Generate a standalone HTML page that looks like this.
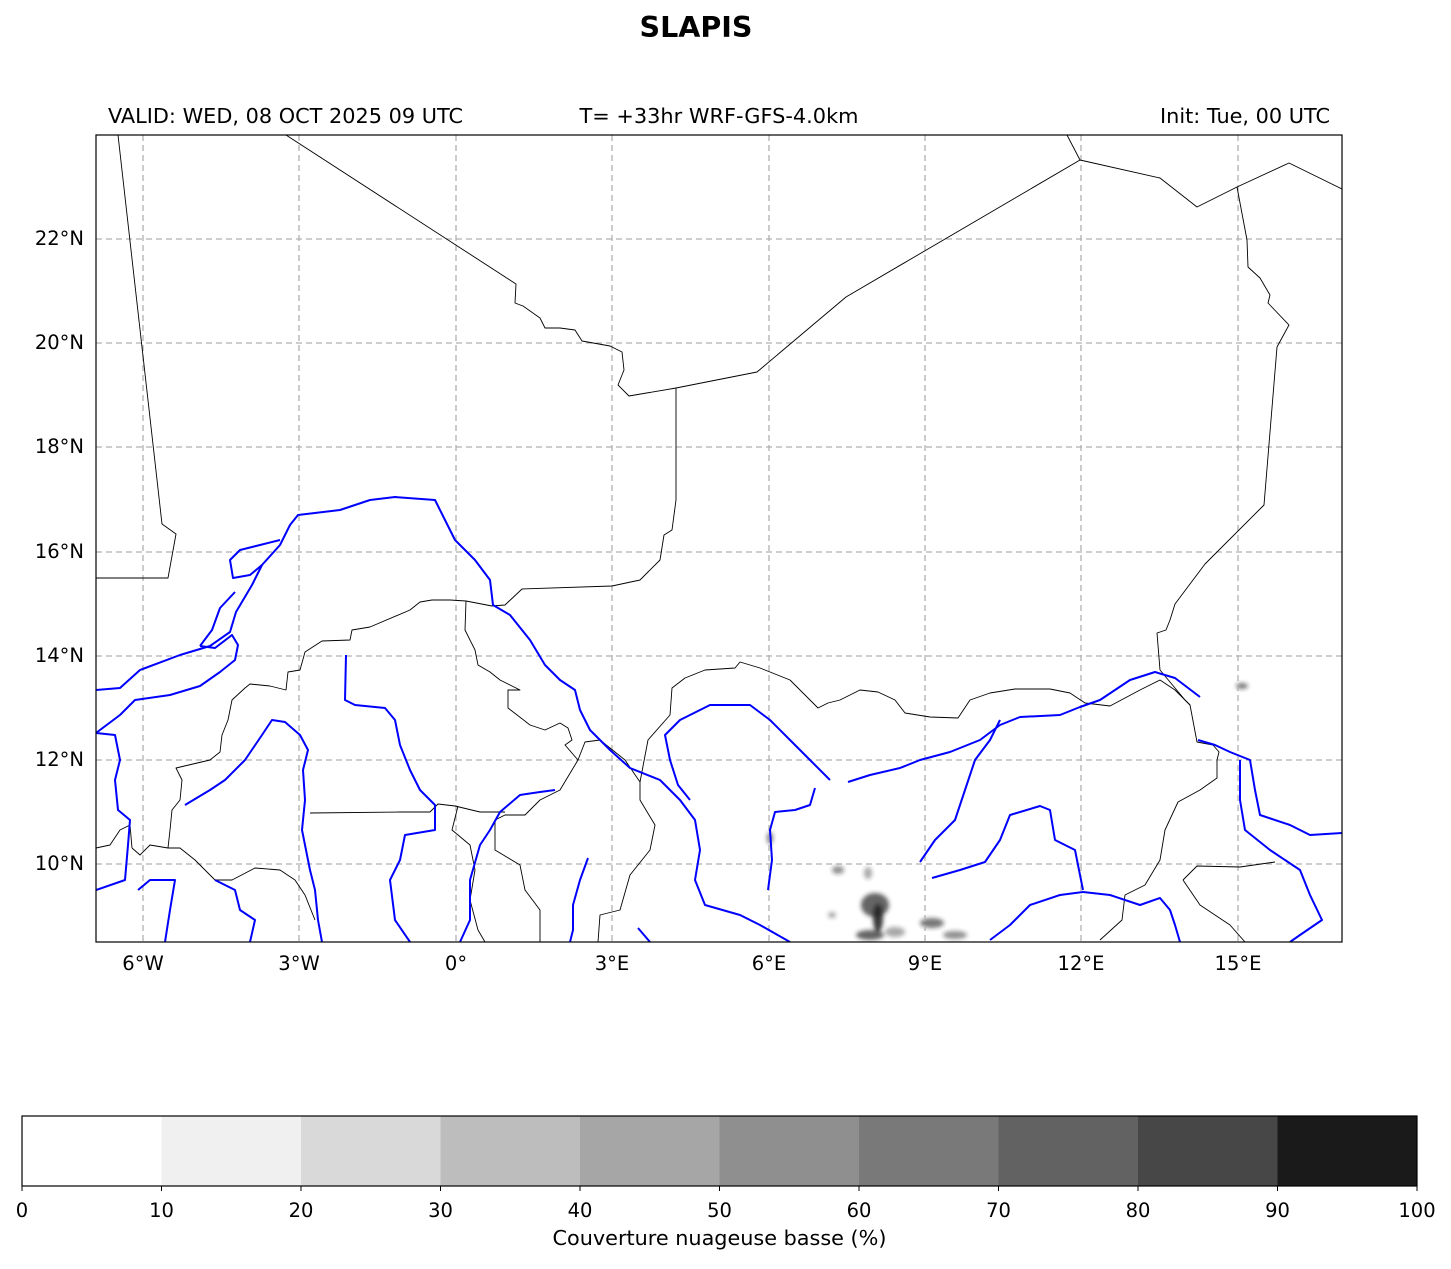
<!DOCTYPE html>
<html><head><meta charset="utf-8"><style>
body{margin:0;background:#fff;width:1451px;height:1264px;overflow:hidden;font-family:"Liberation Sans","DejaVu Sans",sans-serif}
</style></head><body>
<svg width="1451" height="1264" viewBox="0 0 1451 1264" xmlns="http://www.w3.org/2000/svg" font-family="DejaVu Sans, Liberation Sans, sans-serif">
<defs>
<filter id="bl" x="-50%" y="-50%" width="200%" height="200%"><feGaussianBlur stdDeviation="2.2"/></filter>
<clipPath id="ax"><rect x="96" y="135" width="1246" height="807"/></clipPath>
</defs>
<text x="696" y="37" text-anchor="middle" font-size="28.5" font-weight="bold" textLength="113" lengthAdjust="spacingAndGlyphs">SLAPIS</text>
<text x="108" y="123" font-size="20.5" textLength="355" lengthAdjust="spacingAndGlyphs">VALID: WED, 08 OCT 2025 09 UTC</text>
<text x="719" y="123" font-size="20.5" text-anchor="middle" textLength="279" lengthAdjust="spacingAndGlyphs">T= +33hr WRF-GFS-4.0km</text>
<text x="1330" y="123" font-size="20.5" text-anchor="end" textLength="170" lengthAdjust="spacingAndGlyphs">Init: Tue, 00 UTC</text>

<g clip-path="url(#ax)">
<g filter="url(#bl)" fill="#222">
<ellipse cx="770" cy="838" rx="3" ry="6" opacity=".6"/>
<ellipse cx="838" cy="870" rx="6" ry="4" opacity=".5"/>
<ellipse cx="868" cy="873" rx="4" ry="6" opacity=".4"/>
<ellipse cx="875" cy="905" rx="14" ry="12" opacity=".7"/>
<ellipse cx="878" cy="918" rx="5" ry="14" opacity=".9"/>
<ellipse cx="870" cy="935" rx="14" ry="5" opacity=".7"/>
<ellipse cx="895" cy="932" rx="10" ry="5" opacity=".4"/>
<ellipse cx="932" cy="923" rx="12" ry="5" opacity=".6"/>
<ellipse cx="955" cy="935" rx="12" ry="4" opacity=".5"/>
<ellipse cx="832" cy="915" rx="4" ry="3" opacity=".4"/>
<ellipse cx="1242" cy="686" rx="6" ry="3" opacity=".6"/>
</g>
<g stroke="#b0b0b0" stroke-width="1.3" stroke-dasharray="6,4" fill="none">
<path d="M143 135V942M299 135V942M456 135V942M612 135V942M769 135V942M925 135V942M1081 135V942M1238 135V942"/>
<path d="M96 239H1342M96 343H1342M96 447H1342M96 552H1342M96 656H1342M96 760H1342M96 864H1342"/>
</g>
<g stroke="#000" stroke-width="0.9" fill="none" stroke-linejoin="round">
<polyline points="118,135 162,524 176,534 168,578 96,578"/>
<polyline points="286,135 516,284 515,303 523,306 540,318 545,328 560,328 575,330 582,341 610,346 622,352 624,370 618,385 629,396 676,388 757,372 846,297 1080,160 1067,135"/>
<polyline points="1080,160 1160,178 1197,207 1237,187 1289,163 1342,189"/>
<polyline points="1237,187 1247,240 1248,267 1260,278 1270,295 1268,303 1289,325 1277,347 1264,505 1205,564 1175,604 1170,620 1166,630 1157,633 1160,670 1185,700 1190,705 1197,742 1213,745 1219,752 1217,760 1217,778 1200,790 1178,802 1165,830 1160,860 1145,885 1125,895 1122,920 1100,940"/>
<polyline points="676,388 676,500 672,530 664,535 660,560 648,572 640,580 612,586 522,589 505,605 492,606 466,601 450,600 432,600 420,602 410,610 370,627 352,630 350,640 322,641 305,652 300,670 288,672 286,690 270,686 250,684 245,688 232,700 228,720 222,735 220,752 210,760 176,768 182,780 180,800 172,810 170,830 168,848 150,845 140,855 132,848"/>
<polyline points="466,601 465,630 475,650 478,665 490,672 500,680 512,686 520,690 508,690 508,708 530,725 545,730 560,723 568,728 572,740 565,745 578,760 585,742 600,740"/>
<polyline points="310,813 400,812 430,812 438,804 455,806 480,812 505,812"/>
<polyline points="600,740 625,760 640,782 640,800 655,825 650,850 630,875 620,910 600,915 598,942"/>
<polyline points="578,760 560,790 540,800 525,815 505,815 495,820 495,850 520,865 525,890 540,910 540,942"/>
<polyline points="458,806 452,830 470,845 475,870 470,900 478,930 485,942"/>
<polyline points="640,782 648,740 670,715 672,688 685,678 705,670 735,668 740,662 760,668 790,680 805,695 818,708 828,703 840,700 860,690 878,692 895,700 905,713 930,717 958,718 970,700 990,693 1015,689 1050,689 1070,693 1085,703 1110,706 1140,690 1160,680 1175,690 1190,705"/>
<polyline points="168,848 180,848 195,860 215,880 232,880 255,868 280,870 295,880 305,895 315,920"/>
<polyline points="96,848 110,845 120,830 130,825 132,848"/>
<polyline points="1183,880 1197,866 1240,867 1275,862"/>
<polyline points="1183,880 1200,905 1230,925 1245,942"/>
</g>
<g stroke="#0000ff" stroke-width="2" fill="none" stroke-linejoin="round">
<polyline points="96,690 120,688 140,670 180,655 210,646 230,632 236,612 252,585 262,565 280,545 290,525 298,515 340,510 370,500 395,497 435,500 445,520 455,540 475,560 490,580 493,605 510,615 530,640 545,665 560,680 575,690 580,710 590,730 610,750 630,768 660,780 680,800 695,820 700,850 695,880 705,905 740,915 760,925 790,942"/>
<polyline points="262,565 250,575 233,578 230,560 240,550 260,545 280,540"/>
<polyline points="96,733 120,715 135,700 170,695 200,686 220,672 235,660 238,645 232,635 215,648 200,646"/>
<polyline points="235,592 220,608 212,630 200,646"/>
<polyline points="96,733 115,735 120,760 115,780 118,810 130,820 128,845 125,880 96,890"/>
<polyline points="185,805 210,790 225,780 245,760 262,735 272,720 285,722 300,735 308,750 303,770 305,800 302,830 310,870 315,890 318,920 322,942"/>
<polyline points="346,655 345,700 355,705 385,708 395,720 400,745 410,770 420,790 435,805 435,830 405,835 400,860 390,880 395,920 410,942"/>
<polyline points="555,790 540,792 520,795 500,812 490,830 480,845 470,880 470,920 460,942"/>
<polyline points="588,858 580,880 573,905 573,930 570,942"/>
<polyline points="830,780 810,760 790,740 770,720 750,705 710,705 680,720 665,735 670,760 678,785 690,800"/>
<polyline points="815,788 810,805 795,810 775,812 770,830 772,860 768,890"/>
<polyline points="848,782 870,775 900,768 920,760 950,752 980,740 1000,725 1020,717 1060,715 1080,707 1100,700 1115,690 1130,680 1155,672 1175,678 1200,697"/>
<polyline points="1000,720 990,740 975,760 965,790 955,820 935,840 920,862"/>
<polyline points="932,878 960,870 985,862 1000,840 1010,815 1040,806 1050,810 1055,840 1075,850 1083,890"/>
<polyline points="1083,892 1110,895 1140,905 1160,898 1170,910 1175,925 1180,942"/>
<polyline points="1083,892 1060,895 1030,905 1010,925 990,940"/>
<polyline points="1198,740 1215,745 1230,752 1250,760 1255,790 1260,815 1290,825 1310,835 1342,833"/>
<polyline points="1240,760 1240,800 1245,830 1270,850 1300,870 1310,895 1322,920 1300,935 1290,942"/>
<polyline points="138,890 150,880 175,880 170,910 165,942"/>
<polyline points="215,880 235,890 240,910 255,920 250,942"/>
<polyline points="638,928 650,942"/>
</g>
</g>
<rect x="96" y="135" width="1246" height="807" fill="none" stroke="#000" stroke-width="1.2"/>
<g font-size="19.5" text-anchor="middle">
<text x="143" y="970">6°W</text><text x="299" y="970">3°W</text><text x="456" y="970">0°</text><text x="612" y="970">3°E</text><text x="769" y="970">6°E</text><text x="925" y="970">9°E</text><text x="1081" y="970">12°E</text><text x="1238" y="970">15°E</text>
</g>
<g font-size="19.5" text-anchor="end">
<text x="84" y="245">22°N</text><text x="84" y="349">20°N</text><text x="84" y="453">18°N</text><text x="84" y="558">16°N</text><text x="84" y="662">14°N</text><text x="84" y="766">12°N</text><text x="84" y="870">10°N</text>
</g>
<g>
<rect x="22" y="1116" width="139.5" height="70" fill="#ffffff"/>
<rect x="161.5" y="1116" width="139.5" height="70" fill="#f0f0f0"/>
<rect x="301" y="1116" width="139.5" height="70" fill="#d9d9d9"/>
<rect x="440.5" y="1116" width="139.5" height="70" fill="#bdbdbd"/>
<rect x="580" y="1116" width="139.5" height="70" fill="#a6a6a6"/>
<rect x="719.5" y="1116" width="139.5" height="70" fill="#8f8f8f"/>
<rect x="859" y="1116" width="139.5" height="70" fill="#797979"/>
<rect x="998.5" y="1116" width="139.5" height="70" fill="#626262"/>
<rect x="1138" y="1116" width="139.5" height="70" fill="#474747"/>
<rect x="1277.5" y="1116" width="139.5" height="70" fill="#1a1a1a"/>
<rect x="22" y="1116" width="1395" height="70" fill="none" stroke="#000" stroke-width="1.2"/>
</g>
<g stroke="#000" stroke-width="1"><path d="M22 1186v5M161.5 1186v5M301 1186v5M440.5 1186v5M580 1186v5M719.5 1186v5M859 1186v5M998.5 1186v5M1138 1186v5M1277.5 1186v5M1417 1186v5"/></g>
<g font-size="19.5" text-anchor="middle">
<text x="22" y="1217">0</text><text x="161.5" y="1217">10</text><text x="301" y="1217">20</text><text x="440.5" y="1217">30</text><text x="580" y="1217">40</text><text x="719.5" y="1217">50</text><text x="859" y="1217">60</text><text x="998.5" y="1217">70</text><text x="1138" y="1217">80</text><text x="1277.5" y="1217">90</text><text x="1417" y="1217">100</text>
<text x="719.5" y="1245" font-size="20.5" textLength="334" lengthAdjust="spacingAndGlyphs">Couverture nuageuse basse (%)</text>
</g>
</svg>
</body></html>
